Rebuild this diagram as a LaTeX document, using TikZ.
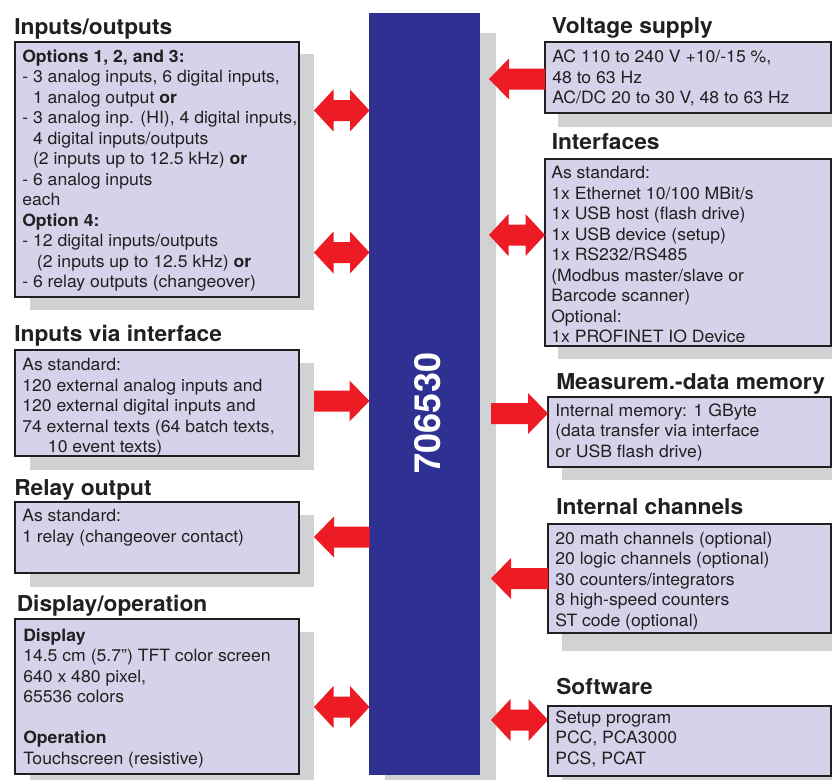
\documentclass[tikz,border=0pt]{standalone}
\usepackage{fontspec}
\setmainfont{TeX Gyre Heros}[FakeStretch=1.04]
\newfontfamily\numfont{TeX Gyre Heros}
\usetikzlibrary{calc,fit}
\definecolor{barblue}{HTML}{2E3192}
\definecolor{boxfill}{HTML}{D5D2E9}
\definecolor{shadowgray}{HTML}{D1D2D4}
\definecolor{arrred}{HTML}{ED1C24}
\definecolor{txt}{HTML}{231F20}
\begin{document}
\begin{tikzpicture}[x=0.75pt,y=-0.75pt,
  infobox/.style={draw=txt, line width=0.9pt, fill=boxfill, inner sep=0pt},
  shadowbox/.style={fill=shadowgray},
  titletext/.style={anchor=base west, inner sep=0pt, text=txt, font=\bfseries\fontsize{16.4}{18}\selectfont},
  bodytext/.style={anchor=base west, inner sep=0pt, text=txt, font=\fontsize{12.7}{15.4}\selectfont},
  dblarrow/.style={fill=arrred, to path={-- ($(\tikztostart)+(19.5,-21)$) -- ($(\tikztostart)+(19.5,-10.5)$) -- ($(\tikztotarget)+(-19.5,-10.5)$) -- ($(\tikztotarget)+(-19.5,-21)$) -- (\tikztotarget) -- ($(\tikztotarget)+(-19.5,21)$) -- ($(\tikztotarget)+(-19.5,10.5)$) -- ($(\tikztostart)+(19.5,10.5)$) -- ($(\tikztostart)+(19.5,21)$) -- cycle}},
  rarrow/.style={fill=arrred, to path={-- ($(\tikztostart)+(0,-10.5)$) -- ($(\tikztotarget)+(-20,-10.5)$) -- ($(\tikztotarget)+(-20,-20.5)$) -- (\tikztotarget) -- ($(\tikztotarget)+(-20,20.5)$) -- ($(\tikztotarget)+(-20,10.5)$) -- ($(\tikztostart)+(0,10.5)$) -- cycle}},
  larrow/.style={fill=arrred, to path={-- ($(\tikztostart)+(0,-10.5)$) -- ($(\tikztotarget)+(20,-10.5)$) -- ($(\tikztotarget)+(20,-20.5)$) -- (\tikztotarget) -- ($(\tikztotarget)+(20,20.5)$) -- ($(\tikztotarget)+(20,10.5)$) -- ($(\tikztostart)+(0,10.5)$) -- cycle}}
]
\useasboundingbox[fill=white] (0,0) rectangle (832,779);

% shadows
\fill[shadowbox] (385,33) rectangle (496,790);
\fill[shadowbox] (29.5,54) rectangle (313.5,309.5);
\fill[shadowbox] (29.5,363) rectangle (313.5,470);
\fill[shadowbox] (29.5,515) rectangle (313.5,587);
\fill[shadowbox] (29.5,632) rectangle (313.5,790);
\fill[shadowbox] (558,55) rectangle (850,127);
\fill[shadowbox] (558,172) rectangle (850,359);
\fill[shadowbox] (562,410) rectangle (850,480);
\fill[shadowbox] (562,537) rectangle (850,651);
\fill[shadowbox] (562,719) rectangle (850,790);

% central bar
\node[fill=barblue, inner sep=0pt, fit={(369,13) (480,775)}] (bar) {};
\node[rotate=90, text=white, inner sep=0pt, font=\numfont\bfseries\fontsize{27}{30}\selectfont] (num) at (428,413) {706530};

% boxes
\node[infobox, fit={(15,42) (299,297)}] (io) {};
\node[infobox, fit={(15,350) (299,456)}] (ivi) {};
\node[infobox, fit={(15,502) (299,573)}] (relay) {};
\node[infobox, fit={(15,619) (299,774)}] (disp) {};
\node[infobox, fit={(545,42) (831,113)}] (volt) {};
\node[infobox, fit={(545,159) (831,346)}] (intf) {};
\node[infobox, fit={(548,397) (831,467)}] (mem) {};
\node[infobox, fit={(548,524) (831,633)}] (chan) {};
\node[infobox, fit={(548,706) (831,776)}] (soft) {};

% titles
\node[titletext] (io-h) at (14,34) {Inputs/outputs};
\node[titletext] (ivi-h) at (14,341.5) {Inputs via interface};
\node[titletext] (relay-h) at (14,495) {Relay output};
\node[titletext] (disp-h) at (16.5,611.5) {Display/operation};
\node[titletext] (volt-h) at (551.5,33.5) {Voltage supply};
\node[titletext] (intf-h) at (551.5,149) {Interfaces};
\node[titletext] (mem-h) at (556,389.5) {Measurem.-data memory};
\node[titletext] (chan-h) at (556,514.5) {Internal channels};
\node[titletext] (soft-h) at (556,694) {Software};

% texts
\node[bodytext] (io-t) at (22,62) {\vtop{%
\hbox{\textbf{Options 1, 2, and 3:}}
\hbox{- 3 analog inputs, 6 digital inputs,}
\hbox{\phantom{- }1 analog output \textbf{or}}
\hbox{- 3 analog inp. (HI), 4 digital inputs,}
\hbox{\phantom{- }4 digital inputs/outputs}
\hbox{\phantom{- }(2 inputs up to 12.5 kHz) \textbf{or}}
\hbox{- 6 analog inputs}
\hbox{each}
\hbox{\textbf{Option 4:}}
\hbox{- 12 digital inputs/outputs}
\hbox{\hspace*{11pt}(2 inputs up to 12.5 kHz) \textbf{or}}
\hbox{- 6 relay outputs (changeover)}}};

\node[bodytext] (ivi-t) at (22,370.5) {\vtop{%
\hbox{As standard:}
\hbox{120 external analog inputs and}
\hbox{120 external digital inputs and}
\hbox{74 external texts (64 batch texts,}
\hbox{\hspace*{19.3pt}10 event texts)}}};

\node[bodytext] (relay-t) at (22,521.5) {\vtop{%
\hbox{As standard:}
\hbox{1 relay (changeover contact)}}};

\node[bodytext] (disp-t) at (23,641) {\vtop{%
\hbox{\textbf{Display}}
\hbox{14.5 cm (5.7”) TFT color screen}
\hbox{640 x 480 pixel,}
\hbox{65536 colors}
\hbox{}
\hbox{\textbf{Operation}}
\hbox{Touchscreen (resistive)}}};

\node[bodytext] (volt-t) at (552,62.5) {\vtop{%
\hbox{AC 110 to 240 V +10/-15 \%,}
\hbox{48 to 63 Hz}
\hbox{AC/DC 20 to 30 V, 48 to 63 Hz}}};

\node[bodytext] (intf-t) at (551,178.5) {\vtop{%
\hbox{As standard:}
\hbox{1x Ethernet 10/100 MBit/s}
\hbox{1x USB host (flash drive)}
\hbox{1x USB device (setup)}
\hbox{1x RS232/RS485}
\hbox{(Modbus master/slave or}
\hbox{Barcode scanner)}
\hbox{Optional:}
\hbox{1x PROFINET IO Device}}};

\node[bodytext] (mem-t) at (555,416) {\vtop{%
\hbox{Internal memory: 1 GByte}
\hbox{(data transfer via interface}
\hbox{or USB flash drive)}}};

\node[bodytext] (chan-t) at (555,544) {\vtop{%
\hbox{20 math channels (optional)}
\hbox{20 logic channels (optional)}
\hbox{30 counters/integrators}
\hbox{8 high-speed counters}
\hbox{ST code (optional)}}};

\node[bodytext] (soft-t) at (555,723) {\vtop{%
\hbox{Setup program}
\hbox{PCC, PCA3000}
\hbox{PCS, PCAT}}};

% arrow end points
\coordinate (a1l) at (314,110.5);  \coordinate (a1r) at (369.5,110.5);
\coordinate (a2l) at (314,252.5);  \coordinate (a2r) at (369.5,252.5);
\coordinate (a3l) at (314,401);    \coordinate (a3r) at (369.5,401);
\coordinate (a4l) at (314,537);    \coordinate (a4r) at (369.5,537);
\coordinate (a5l) at (314,707);    \coordinate (a5r) at (369.5,707);
\coordinate (b1l) at (489,79);     \coordinate (b1r) at (545,79);
\coordinate (b2l) at (489,235);    \coordinate (b2r) at (545,235);
\coordinate (b3l) at (491,413.5);  \coordinate (b3r) at (548,413.5);
\coordinate (b4l) at (491,578.5);  \coordinate (b4r) at (548,578.5);
\coordinate (b5l) at (491,720);    \coordinate (b5r) at (548,720);

% arrows
\path[dblarrow] (a1l) to (a1r);
\path[dblarrow] (a2l) to (a2r);
\path[rarrow] (a3l) to (a3r);
\path[larrow] (a4r) to (a4l);
\path[dblarrow] (a5l) to (a5r);
\path[larrow] (b1r) to (b1l);
\path[dblarrow] (b2l) to (b2r);
\path[rarrow] (b3l) to (b3r);
\path[larrow] (b4r) to (b4l);
\path[dblarrow] (b5l) to (b5r);
\end{tikzpicture}
\end{document}
